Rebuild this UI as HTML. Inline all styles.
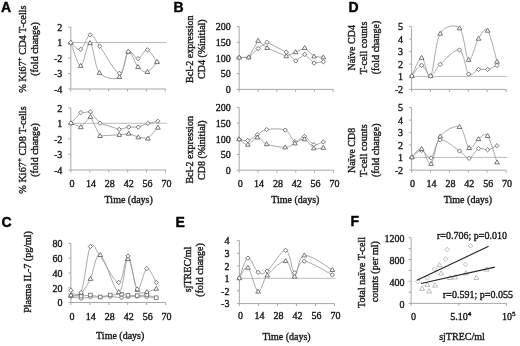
<!DOCTYPE html>
<html><head><meta charset="utf-8"><style>
html,body{margin:0;padding:0;background:#fff;}
svg{display:block;filter:grayscale(1);}
text{font-family:"Liberation Serif",serif;font-size:10px;fill:#1a1a1a;stroke:#1a1a1a;stroke-width:0.38px;}
text.L{font-family:"Liberation Sans",sans-serif;font-weight:bold;font-size:14px;fill:#000;stroke:#000;stroke-width:0.4px;}
</style></head><body>
<svg width="520" height="346" viewBox="0 0 520 346">
<rect width="520" height="346" fill="#fff"/>
<text x="1" y="11.5" class="L">A</text>
<text x="173.5" y="11.6" class="L">B</text>
<text x="348.5" y="11.8" class="L">D</text>
<text x="1.4" y="226.5" class="L">C</text>
<text x="175.5" y="226.5" class="L">E</text>
<text x="350.5" y="226.3" class="L">F</text>
<line x1="70.8" y1="42.5" x2="166.5" y2="42.5" stroke="#b0b0b0" stroke-width="0.85"/>
<line x1="70.8" y1="27" x2="70.8" y2="89" stroke="#a8a8a8" stroke-width="1"/>
<line x1="70.8" y1="89" x2="165.5" y2="89" stroke="#a8a8a8" stroke-width="1"/>
<line x1="68.3" y1="27" x2="70.8" y2="27" stroke="#a8a8a8" stroke-width="1"/>
<line x1="68.3" y1="42.5" x2="70.8" y2="42.5" stroke="#a8a8a8" stroke-width="1"/>
<line x1="68.3" y1="58" x2="70.8" y2="58" stroke="#a8a8a8" stroke-width="1"/>
<line x1="68.3" y1="73.5" x2="70.8" y2="73.5" stroke="#a8a8a8" stroke-width="1"/>
<line x1="68.3" y1="89" x2="70.8" y2="89" stroke="#a8a8a8" stroke-width="1"/>
<line x1="70.8" y1="89" x2="70.8" y2="91.5" stroke="#a8a8a8" stroke-width="1"/>
<line x1="89.7" y1="89" x2="89.7" y2="91.5" stroke="#a8a8a8" stroke-width="1"/>
<line x1="108.6" y1="89" x2="108.6" y2="91.5" stroke="#a8a8a8" stroke-width="1"/>
<line x1="127.5" y1="89" x2="127.5" y2="91.5" stroke="#a8a8a8" stroke-width="1"/>
<line x1="146.4" y1="89" x2="146.4" y2="91.5" stroke="#a8a8a8" stroke-width="1"/>
<line x1="165.3" y1="89" x2="165.3" y2="91.5" stroke="#a8a8a8" stroke-width="1"/>
<text x="62.3" y="30.8" text-anchor="end">2</text>
<text x="62.3" y="46.3" text-anchor="end">1</text>
<text x="62.3" y="61.8" text-anchor="end">-2</text>
<text x="62.3" y="77.3" text-anchor="end">-3</text>
<text x="62.3" y="92.8" text-anchor="end">-4</text>
<text transform="translate(25.7,49.1) rotate(-90)" text-anchor="middle"><tspan font-size="10.25">% Ki67<tspan dy="-3.5" font-size="7">+</tspan><tspan dy="3.5"> CD4 T-cells</tspan></tspan></text>
<text transform="translate(38.2,49) rotate(-90)" text-anchor="middle">(fold change)</text>
<line x1="70.8" y1="123.3" x2="167" y2="123.3" stroke="#b0b0b0" stroke-width="0.85"/>
<line x1="70.8" y1="107.8" x2="70.8" y2="170" stroke="#a8a8a8" stroke-width="1"/>
<line x1="70.8" y1="170" x2="166" y2="170" stroke="#a8a8a8" stroke-width="1"/>
<line x1="68.3" y1="107.8" x2="70.8" y2="107.8" stroke="#a8a8a8" stroke-width="1"/>
<line x1="68.3" y1="123.3" x2="70.8" y2="123.3" stroke="#a8a8a8" stroke-width="1"/>
<line x1="68.3" y1="138.8" x2="70.8" y2="138.8" stroke="#a8a8a8" stroke-width="1"/>
<line x1="68.3" y1="154.3" x2="70.8" y2="154.3" stroke="#a8a8a8" stroke-width="1"/>
<line x1="68.3" y1="170" x2="70.8" y2="170" stroke="#a8a8a8" stroke-width="1"/>
<line x1="71" y1="170" x2="71" y2="172.5" stroke="#a8a8a8" stroke-width="1"/>
<line x1="89.9" y1="170" x2="89.9" y2="172.5" stroke="#a8a8a8" stroke-width="1"/>
<line x1="108.8" y1="170" x2="108.8" y2="172.5" stroke="#a8a8a8" stroke-width="1"/>
<line x1="127.7" y1="170" x2="127.7" y2="172.5" stroke="#a8a8a8" stroke-width="1"/>
<line x1="146.6" y1="170" x2="146.6" y2="172.5" stroke="#a8a8a8" stroke-width="1"/>
<line x1="165.5" y1="170" x2="165.5" y2="172.5" stroke="#a8a8a8" stroke-width="1"/>
<text x="62.3" y="111.6" text-anchor="end">2</text>
<text x="62.3" y="127.1" text-anchor="end">1</text>
<text x="62.3" y="142.6" text-anchor="end">-2</text>
<text x="62.3" y="158.1" text-anchor="end">-3</text>
<text x="62.3" y="173.8" text-anchor="end">-4</text>
<text x="72" y="187" text-anchor="middle">0</text>
<text x="90.9" y="187" text-anchor="middle">14</text>
<text x="109.8" y="187" text-anchor="middle">28</text>
<text x="128.7" y="187" text-anchor="middle">42</text>
<text x="147.6" y="187" text-anchor="middle">56</text>
<text x="166.5" y="187" text-anchor="middle">70</text>
<text transform="translate(25.7,150) rotate(-90)" text-anchor="middle"><tspan font-size="10.25">% Ki67<tspan dy="-3.5" font-size="7">+</tspan><tspan dy="3.5"> CD8 T-cells</tspan></tspan></text>
<text transform="translate(38.2,150) rotate(-90)" text-anchor="middle">(fold change)</text>
<text x="104.6" y="202.5" text-anchor="start" >Time (days)</text>
<line x1="239.2" y1="26.6" x2="239.2" y2="89.4" stroke="#a8a8a8" stroke-width="1"/>
<line x1="239.2" y1="89.4" x2="333.2" y2="89.4" stroke="#a8a8a8" stroke-width="1"/>
<line x1="236.7" y1="26.6" x2="239.2" y2="26.6" stroke="#a8a8a8" stroke-width="1"/>
<line x1="236.7" y1="42.3" x2="239.2" y2="42.3" stroke="#a8a8a8" stroke-width="1"/>
<line x1="236.7" y1="57.9" x2="239.2" y2="57.9" stroke="#a8a8a8" stroke-width="1"/>
<line x1="236.7" y1="73.6" x2="239.2" y2="73.6" stroke="#a8a8a8" stroke-width="1"/>
<line x1="236.7" y1="89.4" x2="239.2" y2="89.4" stroke="#a8a8a8" stroke-width="1"/>
<line x1="239.2" y1="89.4" x2="239.2" y2="91.9" stroke="#a8a8a8" stroke-width="1"/>
<line x1="258" y1="89.4" x2="258" y2="91.9" stroke="#a8a8a8" stroke-width="1"/>
<line x1="276.8" y1="89.4" x2="276.8" y2="91.9" stroke="#a8a8a8" stroke-width="1"/>
<line x1="295.6" y1="89.4" x2="295.6" y2="91.9" stroke="#a8a8a8" stroke-width="1"/>
<line x1="314.4" y1="89.4" x2="314.4" y2="91.9" stroke="#a8a8a8" stroke-width="1"/>
<line x1="333.2" y1="89.4" x2="333.2" y2="91.9" stroke="#a8a8a8" stroke-width="1"/>
<text x="230.7" y="30.4" text-anchor="end">200</text>
<text x="230.7" y="46.1" text-anchor="end">150</text>
<text x="230.7" y="61.7" text-anchor="end">100</text>
<text x="230.7" y="77.4" text-anchor="end">50</text>
<text x="230.7" y="93.2" text-anchor="end">0</text>
<text transform="translate(192.8,49.2) rotate(-90)" text-anchor="middle">Bcl-2 expression</text>
<text transform="translate(204.5,49.15) rotate(-90)" text-anchor="middle">CD4 (%initial)</text>
<line x1="239.2" y1="107.4" x2="239.2" y2="170.2" stroke="#a8a8a8" stroke-width="1"/>
<line x1="239.2" y1="170.2" x2="333.5" y2="170.2" stroke="#a8a8a8" stroke-width="1"/>
<line x1="236.7" y1="107.4" x2="239.2" y2="107.4" stroke="#a8a8a8" stroke-width="1"/>
<line x1="236.7" y1="123.1" x2="239.2" y2="123.1" stroke="#a8a8a8" stroke-width="1"/>
<line x1="236.7" y1="138.8" x2="239.2" y2="138.8" stroke="#a8a8a8" stroke-width="1"/>
<line x1="236.7" y1="154.5" x2="239.2" y2="154.5" stroke="#a8a8a8" stroke-width="1"/>
<line x1="236.7" y1="170.2" x2="239.2" y2="170.2" stroke="#a8a8a8" stroke-width="1"/>
<line x1="239.2" y1="170.2" x2="239.2" y2="172.7" stroke="#a8a8a8" stroke-width="1"/>
<line x1="258.05" y1="170.2" x2="258.05" y2="172.7" stroke="#a8a8a8" stroke-width="1"/>
<line x1="276.9" y1="170.2" x2="276.9" y2="172.7" stroke="#a8a8a8" stroke-width="1"/>
<line x1="295.75" y1="170.2" x2="295.75" y2="172.7" stroke="#a8a8a8" stroke-width="1"/>
<line x1="314.6" y1="170.2" x2="314.6" y2="172.7" stroke="#a8a8a8" stroke-width="1"/>
<line x1="333.45" y1="170.2" x2="333.45" y2="172.7" stroke="#a8a8a8" stroke-width="1"/>
<text x="230.7" y="111.2" text-anchor="end">200</text>
<text x="230.7" y="126.9" text-anchor="end">150</text>
<text x="230.7" y="142.6" text-anchor="end">100</text>
<text x="230.7" y="158.3" text-anchor="end">50</text>
<text x="230.7" y="174" text-anchor="end">0</text>
<text x="240.2" y="187" text-anchor="middle">0</text>
<text x="259.05" y="187" text-anchor="middle">14</text>
<text x="277.9" y="187" text-anchor="middle">28</text>
<text x="296.75" y="187" text-anchor="middle">42</text>
<text x="315.6" y="187" text-anchor="middle">56</text>
<text x="334.45" y="187" text-anchor="middle">70</text>
<text transform="translate(192.8,149.85) rotate(-90)" text-anchor="middle">Bcl-2 expression</text>
<text transform="translate(204.5,150.15) rotate(-90)" text-anchor="middle">CD8 (%initial)</text>
<text x="271.2" y="202.6" text-anchor="start" >Time (days)</text>
<line x1="411.6" y1="76.4" x2="507.3" y2="76.4" stroke="#b0b0b0" stroke-width="0.85"/>
<line x1="411.6" y1="26.6" x2="411.6" y2="89.4" stroke="#a8a8a8" stroke-width="1"/>
<line x1="411.6" y1="89.4" x2="506.3" y2="89.4" stroke="#a8a8a8" stroke-width="1"/>
<line x1="409.1" y1="26.6" x2="411.6" y2="26.6" stroke="#a8a8a8" stroke-width="1"/>
<line x1="409.1" y1="39.1" x2="411.6" y2="39.1" stroke="#a8a8a8" stroke-width="1"/>
<line x1="409.1" y1="51.6" x2="411.6" y2="51.6" stroke="#a8a8a8" stroke-width="1"/>
<line x1="409.1" y1="64.1" x2="411.6" y2="64.1" stroke="#a8a8a8" stroke-width="1"/>
<line x1="409.1" y1="76.4" x2="411.6" y2="76.4" stroke="#a8a8a8" stroke-width="1"/>
<line x1="409.1" y1="89.4" x2="411.6" y2="89.4" stroke="#a8a8a8" stroke-width="1"/>
<line x1="411.6" y1="89.4" x2="411.6" y2="91.9" stroke="#a8a8a8" stroke-width="1"/>
<line x1="430.5" y1="89.4" x2="430.5" y2="91.9" stroke="#a8a8a8" stroke-width="1"/>
<line x1="449.4" y1="89.4" x2="449.4" y2="91.9" stroke="#a8a8a8" stroke-width="1"/>
<line x1="468.3" y1="89.4" x2="468.3" y2="91.9" stroke="#a8a8a8" stroke-width="1"/>
<line x1="487.2" y1="89.4" x2="487.2" y2="91.9" stroke="#a8a8a8" stroke-width="1"/>
<line x1="506.1" y1="89.4" x2="506.1" y2="91.9" stroke="#a8a8a8" stroke-width="1"/>
<text x="403.1" y="30.4" text-anchor="end">5</text>
<text x="403.1" y="42.9" text-anchor="end">4</text>
<text x="403.1" y="55.4" text-anchor="end">3</text>
<text x="403.1" y="67.9" text-anchor="end">2</text>
<text x="403.1" y="80.2" text-anchor="end">1</text>
<text x="403.1" y="93.2" text-anchor="end">-2</text>
<text transform="translate(355.4,47.75) rotate(-90)" text-anchor="middle">Naïve CD4</text>
<text transform="translate(367.4,47.9) rotate(-90)" text-anchor="middle"><tspan font-size="10.2">T-cell counts</tspan></text>
<text transform="translate(378.8,47.5) rotate(-90)" text-anchor="middle">(fold change)</text>
<line x1="411.6" y1="157.4" x2="507.3" y2="157.4" stroke="#b0b0b0" stroke-width="0.85"/>
<line x1="411.6" y1="107.6" x2="411.6" y2="170.2" stroke="#a8a8a8" stroke-width="1"/>
<line x1="411.6" y1="170.2" x2="506.3" y2="170.2" stroke="#a8a8a8" stroke-width="1"/>
<line x1="409.1" y1="107.6" x2="411.6" y2="107.6" stroke="#a8a8a8" stroke-width="1"/>
<line x1="409.1" y1="120.1" x2="411.6" y2="120.1" stroke="#a8a8a8" stroke-width="1"/>
<line x1="409.1" y1="132.6" x2="411.6" y2="132.6" stroke="#a8a8a8" stroke-width="1"/>
<line x1="409.1" y1="145" x2="411.6" y2="145" stroke="#a8a8a8" stroke-width="1"/>
<line x1="409.1" y1="157.4" x2="411.6" y2="157.4" stroke="#a8a8a8" stroke-width="1"/>
<line x1="409.1" y1="170" x2="411.6" y2="170" stroke="#a8a8a8" stroke-width="1"/>
<line x1="411.6" y1="170.2" x2="411.6" y2="172.7" stroke="#a8a8a8" stroke-width="1"/>
<line x1="430.5" y1="170.2" x2="430.5" y2="172.7" stroke="#a8a8a8" stroke-width="1"/>
<line x1="449.4" y1="170.2" x2="449.4" y2="172.7" stroke="#a8a8a8" stroke-width="1"/>
<line x1="468.3" y1="170.2" x2="468.3" y2="172.7" stroke="#a8a8a8" stroke-width="1"/>
<line x1="487.2" y1="170.2" x2="487.2" y2="172.7" stroke="#a8a8a8" stroke-width="1"/>
<line x1="506.1" y1="170.2" x2="506.1" y2="172.7" stroke="#a8a8a8" stroke-width="1"/>
<text x="403.1" y="111.4" text-anchor="end">5</text>
<text x="403.1" y="123.9" text-anchor="end">4</text>
<text x="403.1" y="136.4" text-anchor="end">3</text>
<text x="403.1" y="148.8" text-anchor="end">2</text>
<text x="403.1" y="161.2" text-anchor="end">1</text>
<text x="403.1" y="173.8" text-anchor="end">-2</text>
<text x="412.6" y="187" text-anchor="middle">0</text>
<text x="431.5" y="187" text-anchor="middle">14</text>
<text x="450.4" y="187" text-anchor="middle">28</text>
<text x="469.3" y="187" text-anchor="middle">42</text>
<text x="488.2" y="187" text-anchor="middle">56</text>
<text x="507.1" y="187" text-anchor="middle">70</text>
<text transform="translate(355.4,150.4) rotate(-90)" text-anchor="middle">Naïve CD8</text>
<text transform="translate(367.4,150.6) rotate(-90)" text-anchor="middle"><tspan font-size="10.2">T-cell counts</tspan></text>
<text transform="translate(378.8,150.3) rotate(-90)" text-anchor="middle">(fold change)</text>
<text x="443.8" y="202.6" text-anchor="start" >Time (days)</text>
<line x1="70.9" y1="243.4" x2="70.9" y2="302.5" stroke="#a8a8a8" stroke-width="1"/>
<line x1="70.9" y1="302.5" x2="165.6" y2="302.5" stroke="#a8a8a8" stroke-width="1"/>
<line x1="68.4" y1="243.4" x2="70.9" y2="243.4" stroke="#a8a8a8" stroke-width="1"/>
<line x1="68.4" y1="258.2" x2="70.9" y2="258.2" stroke="#a8a8a8" stroke-width="1"/>
<line x1="68.4" y1="273" x2="70.9" y2="273" stroke="#a8a8a8" stroke-width="1"/>
<line x1="68.4" y1="287.8" x2="70.9" y2="287.8" stroke="#a8a8a8" stroke-width="1"/>
<line x1="68.4" y1="302.5" x2="70.9" y2="302.5" stroke="#a8a8a8" stroke-width="1"/>
<line x1="70.9" y1="302.5" x2="70.9" y2="305" stroke="#a8a8a8" stroke-width="1"/>
<line x1="89.84" y1="302.5" x2="89.84" y2="305" stroke="#a8a8a8" stroke-width="1"/>
<line x1="108.78" y1="302.5" x2="108.78" y2="305" stroke="#a8a8a8" stroke-width="1"/>
<line x1="127.72" y1="302.5" x2="127.72" y2="305" stroke="#a8a8a8" stroke-width="1"/>
<line x1="146.66" y1="302.5" x2="146.66" y2="305" stroke="#a8a8a8" stroke-width="1"/>
<line x1="165.6" y1="302.5" x2="165.6" y2="305" stroke="#a8a8a8" stroke-width="1"/>
<text x="62.4" y="247.2" text-anchor="end">80</text>
<text x="62.4" y="262" text-anchor="end">60</text>
<text x="62.4" y="276.8" text-anchor="end">40</text>
<text x="62.4" y="291.6" text-anchor="end">20</text>
<text x="62.4" y="306.3" text-anchor="end">0</text>
<text x="71.9" y="319.6" text-anchor="middle">0</text>
<text x="90.84" y="319.6" text-anchor="middle">14</text>
<text x="109.78" y="319.6" text-anchor="middle">28</text>
<text x="128.72" y="319.6" text-anchor="middle">42</text>
<text x="147.66" y="319.6" text-anchor="middle">56</text>
<text x="166.6" y="319.6" text-anchor="middle">70</text>
<text transform="translate(30.6,272) rotate(-90)" text-anchor="middle">Plasma IL-7 (pg/ml)</text>
<text x="96.1" y="338.8" text-anchor="start" >Time (days)</text>
<line x1="239.4" y1="278.3" x2="335.5" y2="278.3" stroke="#b0b0b0" stroke-width="0.85"/>
<line x1="239.4" y1="240.6" x2="239.4" y2="303.6" stroke="#a8a8a8" stroke-width="1"/>
<line x1="239.4" y1="303.6" x2="334.5" y2="303.6" stroke="#a8a8a8" stroke-width="1"/>
<line x1="236.9" y1="240.6" x2="239.4" y2="240.6" stroke="#a8a8a8" stroke-width="1"/>
<line x1="236.9" y1="253.3" x2="239.4" y2="253.3" stroke="#a8a8a8" stroke-width="1"/>
<line x1="236.9" y1="265.9" x2="239.4" y2="265.9" stroke="#a8a8a8" stroke-width="1"/>
<line x1="236.9" y1="278.3" x2="239.4" y2="278.3" stroke="#a8a8a8" stroke-width="1"/>
<line x1="236.9" y1="290.8" x2="239.4" y2="290.8" stroke="#a8a8a8" stroke-width="1"/>
<line x1="236.9" y1="303.6" x2="239.4" y2="303.6" stroke="#a8a8a8" stroke-width="1"/>
<line x1="239.4" y1="303.6" x2="239.4" y2="306.1" stroke="#a8a8a8" stroke-width="1"/>
<line x1="258.42" y1="303.6" x2="258.42" y2="306.1" stroke="#a8a8a8" stroke-width="1"/>
<line x1="277.44" y1="303.6" x2="277.44" y2="306.1" stroke="#a8a8a8" stroke-width="1"/>
<line x1="296.46" y1="303.6" x2="296.46" y2="306.1" stroke="#a8a8a8" stroke-width="1"/>
<line x1="315.48" y1="303.6" x2="315.48" y2="306.1" stroke="#a8a8a8" stroke-width="1"/>
<line x1="334.5" y1="303.6" x2="334.5" y2="306.1" stroke="#a8a8a8" stroke-width="1"/>
<text x="229.4" y="244.4" text-anchor="end">4</text>
<text x="229.4" y="257.1" text-anchor="end">3</text>
<text x="229.4" y="269.7" text-anchor="end">2</text>
<text x="229.4" y="282.1" text-anchor="end">1</text>
<text x="229.4" y="294.6" text-anchor="end">-2</text>
<text x="229.4" y="307.4" text-anchor="end">-3</text>
<text x="240.4" y="319.3" text-anchor="middle">0</text>
<text x="259.42" y="319.3" text-anchor="middle">14</text>
<text x="278.44" y="319.3" text-anchor="middle">28</text>
<text x="297.46" y="319.3" text-anchor="middle">42</text>
<text x="316.48" y="319.3" text-anchor="middle">56</text>
<text x="335.5" y="319.3" text-anchor="middle">70</text>
<text transform="translate(191.2,269.4) rotate(-90)" text-anchor="middle">sjTREC/ml</text>
<text transform="translate(203.2,269.9) rotate(-90)" text-anchor="middle">(fold change)</text>
<text x="262.4" y="339.5" text-anchor="start" >Time (days)</text>
<line x1="411.1" y1="237.7" x2="411.1" y2="303.4" stroke="#a8a8a8" stroke-width="1"/>
<line x1="411.1" y1="303.4" x2="506.6" y2="303.4" stroke="#a8a8a8" stroke-width="1"/>
<line x1="408.6" y1="237.7" x2="411.1" y2="237.7" stroke="#a8a8a8" stroke-width="1"/>
<line x1="408.6" y1="248.6" x2="411.1" y2="248.6" stroke="#a8a8a8" stroke-width="1"/>
<line x1="408.6" y1="259.5" x2="411.1" y2="259.5" stroke="#a8a8a8" stroke-width="1"/>
<line x1="408.6" y1="270.4" x2="411.1" y2="270.4" stroke="#a8a8a8" stroke-width="1"/>
<line x1="408.6" y1="281.3" x2="411.1" y2="281.3" stroke="#a8a8a8" stroke-width="1"/>
<line x1="408.6" y1="292.2" x2="411.1" y2="292.2" stroke="#a8a8a8" stroke-width="1"/>
<line x1="408.6" y1="303.4" x2="411.1" y2="303.4" stroke="#a8a8a8" stroke-width="1"/>
<line x1="411.1" y1="303.4" x2="411.1" y2="305.9" stroke="#a8a8a8" stroke-width="1"/>
<line x1="458.8" y1="303.4" x2="458.8" y2="305.9" stroke="#a8a8a8" stroke-width="1"/>
<line x1="506.6" y1="303.4" x2="506.6" y2="305.9" stroke="#a8a8a8" stroke-width="1"/>
<text x="404.4" y="242" text-anchor="end" font-size="9.2">1200</text>
<text x="404.4" y="263.8" text-anchor="end" font-size="9.2">800</text>
<text x="404.4" y="285.6" text-anchor="end" font-size="9.2">400</text>
<text x="404.4" y="307.7" text-anchor="end" font-size="9.2">0</text>
<path d="M417.8,279.3 L420.1,281.6 L417.8,283.9 L415.5,281.6 Z" fill="#fff" stroke="#b4b4b4" stroke-width="0.9"/>
<path d="M427.3,275.5 L429.6,277.8 L427.3,280.1 L425,277.8 Z" fill="#fff" stroke="#b4b4b4" stroke-width="0.9"/>
<path d="M434.3,266.8 L436.6,269.1 L434.3,271.4 L432,269.1 Z" fill="#fff" stroke="#b4b4b4" stroke-width="0.9"/>
<path d="M445.5,256.8 L447.8,259.1 L445.5,261.4 L443.2,259.1 Z" fill="#fff" stroke="#b4b4b4" stroke-width="0.9"/>
<path d="M447.3,247.2 L449.6,249.5 L447.3,251.8 L445,249.5 Z" fill="#fff" stroke="#b4b4b4" stroke-width="0.9"/>
<path d="M465.5,262 L467.8,264.3 L465.5,266.6 L463.2,264.3 Z" fill="#fff" stroke="#b4b4b4" stroke-width="0.9"/>
<path d="M470.5,243.5 L472.8,245.8 L470.5,248.1 L468.2,245.8 Z" fill="#fff" stroke="#b4b4b4" stroke-width="0.9"/>
<path d="M422.1,286.05 L424.63,290.3 L419.57,290.3 Z" fill="#fff" stroke="#b4b4b4" stroke-width="0.9"/>
<path d="M427.3,282.15 L429.83,286.4 L424.77,286.4 Z" fill="#fff" stroke="#b4b4b4" stroke-width="0.9"/>
<path d="M429.1,288.65 L431.63,292.9 L426.57,292.9 Z" fill="#fff" stroke="#b4b4b4" stroke-width="0.9"/>
<path d="M435.1,282.85 L437.63,287.1 L432.57,287.1 Z" fill="#fff" stroke="#b4b4b4" stroke-width="0.9"/>
<path d="M439.5,262.55 L442.03,266.8 L436.97,266.8 Z" fill="#fff" stroke="#b4b4b4" stroke-width="0.9"/>
<path d="M441.2,270.75 L443.73,275 L438.67,275 Z" fill="#fff" stroke="#b4b4b4" stroke-width="0.9"/>
<path d="M449.9,275.25 L452.43,279.5 L447.37,279.5 Z" fill="#fff" stroke="#b4b4b4" stroke-width="0.9"/>
<path d="M455.1,274.75 L457.63,279 L452.57,279 Z" fill="#fff" stroke="#b4b4b4" stroke-width="0.9"/>
<path d="M465.9,270.55 L468.43,274.8 L463.37,274.8 Z" fill="#fff" stroke="#b4b4b4" stroke-width="0.9"/>
<path d="M476.3,275.15 L478.83,279.4 L473.77,279.4 Z" fill="#fff" stroke="#b4b4b4" stroke-width="0.9"/>
<path d="M486.7,266.85 L489.23,271.1 L484.17,271.1 Z" fill="#fff" stroke="#b4b4b4" stroke-width="0.9"/>
<line x1="417" y1="280.2" x2="488.6" y2="246.3" stroke="#222" stroke-width="1.1"/>
<line x1="421" y1="283.5" x2="494.8" y2="267.1" stroke="#222" stroke-width="1.1"/>
<text x="437" y="239" text-anchor="start" >r=0.706; p=0.010</text>
<text x="443" y="297.6" text-anchor="start" >r=0.591; p=0.055</text>
<text x="413.6" y="319.5" text-anchor="middle" >0</text>
<text x="450.3" y="319.5" text-anchor="start" >5.10<tspan dy="-3.5" font-size="7">4</tspan></text>
<text x="501.9" y="319.5" text-anchor="start" >10<tspan dy="-3.5" font-size="7">5</tspan></text>
<text transform="translate(365,272.5) rotate(-90)" text-anchor="middle"><tspan font-size="10.2">Total naïve T-cell</tspan></text>
<text transform="translate(377.7,271.7) rotate(-90)" text-anchor="middle">counts (per ml)</text>
<text x="439.2" y="339.6" text-anchor="start" >sjTREC/ml</text>
<path d="M70.8,42.6 C72.45,46.47 77.48,65.73 80.7,65.8 C83.92,65.87 86.97,41.83 90.1,43 C93.23,44.17 94.62,67.15 99.5,72.8 C104.38,78.45 114.6,80.42 119.4,76.9 C124.2,73.38 125.2,53.35 128.3,51.7 C131.4,50.05 134.82,63.63 138,67 C141.18,70.37 144.23,72.73 147.4,71.9 C150.57,71.07 155.4,63.65 157,62" fill="none" stroke="#9a9a9a" stroke-width="0.85"/>
<path d="M70.8,42.6 C72.45,43.73 77.48,50.7 80.7,49.4 C83.92,48.1 86.92,35.32 90.1,34.8 C93.28,34.28 94.92,39.88 99.8,46.3 C104.68,52.72 114.65,72.4 119.4,73.3 C124.15,74.2 125.2,54.15 128.3,51.7 C131.4,49.25 134.82,58.92 138,58.6 C141.18,58.28 144.23,49.23 147.4,49.8 C150.57,50.37 155.4,59.97 157,62" fill="none" stroke="#9a9a9a" stroke-width="0.85"/>
<path d="M71,123.2 L80.8,127.1 L90.4,116.8 L100,135.9 L119.3,134.8 L128.7,133.6 L138.3,137.2 L147.9,138.5 L157.9,127.6" fill="none" stroke="#9a9a9a" stroke-width="0.85"/>
<path d="M71,123.2 L80.8,112.6 L90.4,111.9 L100,123.2 L119.3,129.4 L128.7,127.1 L138.3,127.1 L147.9,123.4 L157.9,121.3" fill="none" stroke="#9a9a9a" stroke-width="0.85"/>
<path d="M239.2,57.5 L248.7,57.3 L258.1,48.6 L267.1,42.3 L286.3,52.2 L295.7,60.9 L304.7,54.4 L314.1,63.1 L323.3,61.8" fill="none" stroke="#9a9a9a" stroke-width="0.85"/>
<path d="M239.2,57.5 L248.7,57.3 L258.1,40.7 L267.1,47.9 L286.3,56.2 L295.7,52.1 L304.7,47.9 L314.1,56.4 L323.3,57.3" fill="none" stroke="#9a9a9a" stroke-width="0.85"/>
<path d="M239.1,139.2 C240.55,139.43 244.77,141.35 247.8,140.6 C250.83,139.85 254.15,136.53 257.3,134.7 C260.45,132.87 262.05,130.37 266.7,129.6 C271.35,128.83 280.52,128.12 285.2,130.1 C289.88,132.08 291.6,140.43 294.8,141.5 C298,142.57 301.23,135.98 304.4,136.5 C307.57,137.02 310.65,143.7 313.8,144.6 C316.95,145.5 321.72,142.35 323.3,141.9" fill="none" stroke="#9a9a9a" stroke-width="0.85"/>
<path d="M239.1,139.2 C240.55,140.1 244.77,144.9 247.8,144.6 C250.83,144.3 254.15,137.48 257.3,137.4 C260.45,137.32 262.05,142.45 266.7,144.1 C271.35,145.75 280.52,147.43 285.2,147.3 C289.88,147.17 291.6,144.65 294.8,143.3 C298,141.95 301.23,138.38 304.4,139.2 C307.57,140.02 310.65,146.78 313.8,148.2 C316.95,149.62 321.72,147.78 323.3,147.7" fill="none" stroke="#9a9a9a" stroke-width="0.85"/>
<path d="M411.8,76 C413.43,72.97 418.47,57.8 421.6,57.8 C424.73,57.8 427.5,80.03 430.6,76 C433.7,71.97 435.38,41.57 440.2,33.6 C445.02,25.63 454.77,23.83 459.5,28.2 C464.23,32.57 465.43,58.07 468.6,59.8 C471.77,61.53 475.33,43.47 478.5,38.6 C481.67,33.73 484.52,26.77 487.6,30.6 C490.68,34.43 495.43,56.43 497,61.6" fill="none" stroke="#9a9a9a" stroke-width="0.85"/>
<path d="M411.8,76 C413.43,74.22 418.47,65.3 421.6,65.3 C424.73,65.3 427.5,76.15 430.6,76 C433.7,75.85 435.38,68.73 440.2,64.4 C445.02,60.07 454.77,48.38 459.5,50 C464.23,51.62 465.43,70.87 468.6,74.1 C471.77,77.33 475.33,70.18 478.5,69.4 C481.67,68.62 484.52,70.07 487.6,69.4 C490.68,68.73 495.43,66.07 497,65.4" fill="none" stroke="#9a9a9a" stroke-width="0.85"/>
<path d="M411.8,157.2 C413.43,156.07 418.38,150.27 421.6,150.4 C424.82,150.53 428,159.75 431.1,158 C434.2,156.25 435.47,141.07 440.2,139.9 C444.93,138.73 454.68,147.93 459.5,151 C464.32,154.07 465.93,158.7 469.1,158.3 C472.27,157.9 475.42,150.02 478.5,148.6 C481.58,147.18 484.52,150.28 487.6,149.8 C490.68,149.32 495.43,146.38 497,145.7" fill="none" stroke="#9a9a9a" stroke-width="0.85"/>
<path d="M411.8,157.2 C413.43,155.82 418.38,147.8 421.6,148.9 C424.82,150 428,165.88 431.1,163.8 C434.2,161.72 435.47,142.55 440.2,136.4 C444.93,130.25 454.68,124.97 459.5,126.9 C464.32,128.83 465.93,145.98 469.1,148 C472.27,150.02 475.42,141.02 478.5,139 C481.58,136.98 484.52,132.02 487.6,135.9 C490.68,139.78 495.43,157.9 497,162.3" fill="none" stroke="#9a9a9a" stroke-width="0.85"/>
<path d="M70.9,296.5 L81.1,298.6 L90.4,297 L100.3,297.2 L110.3,296.5 L121.5,297.7 L128,296.8 L137.3,296.5 L146.8,296.8 L156.3,297.8" fill="none" stroke="#9a9a9a" stroke-width="0.85"/>
<path d="M70.9,295.6 L81.1,296.2 L90.4,295 L100.3,297 L110.3,295 L121.5,294.2 L128,295.2 L137.3,295.6 L146.8,295 L156.3,297.7" fill="none" stroke="#9a9a9a" stroke-width="0.85"/>
<path d="M70.9,295.2 C72.6,294.83 77.85,295.73 81.1,293 C84.35,290.27 87.2,285.15 90.4,278.8 C93.6,272.45 95.58,252.7 100.3,254.9 C105.02,257.1 114.08,291.33 118.7,292 C123.32,292.67 124.9,259.27 128,258.9 C131.1,258.53 134.17,284.28 137.3,289.8 C140.43,295.32 143.63,292.18 146.8,292 C149.97,291.82 154.72,289.25 156.3,288.7" fill="none" stroke="#9a9a9a" stroke-width="0.85"/>
<path d="M70.9,290.3 C72.6,290.67 77.85,299.8 81.1,292.5 C84.35,285.2 87.2,252.5 90.4,246.5 C93.6,240.5 95.58,250.5 100.3,256.5 C105.02,262.5 114.08,282.58 118.7,282.5 C123.32,282.42 124.9,254.88 128,256 C131.1,257.12 134.17,287.1 137.3,289.2 C140.43,291.3 143.63,269.72 146.8,268.6 C149.97,267.48 154.72,280.18 156.3,282.5" fill="none" stroke="#9a9a9a" stroke-width="0.85"/>
<path d="M239.3,278.1 C240.73,276.37 244.77,265.47 247.9,267.7 C251.03,269.93 254.88,290.22 258.1,291.5 C261.32,292.78 262.62,280.48 267.2,275.4 C271.78,270.32 281.05,260.82 285.6,261 C290.15,261.18 291.38,277.43 294.5,276.5 C297.62,275.57 298,256.5 304.3,255.4 C310.6,254.3 327.63,267.48 332.3,269.9" fill="none" stroke="#9a9a9a" stroke-width="0.85"/>
<path d="M239.3,278.1 C240.73,274.77 244.77,259.07 247.9,258.1 C251.03,257.13 254.88,270.15 258.1,272.3 C261.32,274.45 262.62,274.67 267.2,271 C271.78,267.33 281.05,250 285.6,250.3 C290.15,250.6 291.38,270.98 294.5,272.8 C297.62,274.62 298,260.85 304.3,261.2 C310.6,261.55 327.63,272.62 332.3,274.9" fill="none" stroke="#9a9a9a" stroke-width="0.85"/>
<path d="M70.8,40.21 L73.16,44.19 L68.44,44.19 Z" fill="#fff" stroke="#666666" stroke-width="0.9"/>
<path d="M80.7,63.41 L83.06,67.39 L78.34,67.39 Z" fill="#fff" stroke="#666666" stroke-width="0.9"/>
<path d="M90.1,40.61 L92.46,44.59 L87.73,44.59 Z" fill="#fff" stroke="#666666" stroke-width="0.9"/>
<path d="M99.5,70.41 L101.86,74.39 L97.14,74.39 Z" fill="#fff" stroke="#666666" stroke-width="0.9"/>
<path d="M119.4,74.51 L121.77,78.49 L117.04,78.49 Z" fill="#fff" stroke="#666666" stroke-width="0.9"/>
<path d="M128.3,49.31 L130.67,53.29 L125.94,53.29 Z" fill="#fff" stroke="#666666" stroke-width="0.9"/>
<path d="M138,64.61 L140.37,68.59 L135.63,68.59 Z" fill="#fff" stroke="#666666" stroke-width="0.9"/>
<path d="M147.4,69.51 L149.77,73.49 L145.03,73.49 Z" fill="#fff" stroke="#666666" stroke-width="0.9"/>
<path d="M157,59.61 L159.37,63.59 L154.63,63.59 Z" fill="#fff" stroke="#666666" stroke-width="0.9"/>
<path d="M70.8,40.45 L72.95,42.6 L70.8,44.75 L68.65,42.6 Z" fill="#fff" stroke="#666666" stroke-width="0.9"/>
<path d="M80.7,47.25 L82.85,49.4 L80.7,51.55 L78.55,49.4 Z" fill="#fff" stroke="#666666" stroke-width="0.9"/>
<path d="M90.1,32.65 L92.25,34.8 L90.1,36.95 L87.95,34.8 Z" fill="#fff" stroke="#666666" stroke-width="0.9"/>
<path d="M99.8,44.15 L101.95,46.3 L99.8,48.45 L97.65,46.3 Z" fill="#fff" stroke="#666666" stroke-width="0.9"/>
<path d="M119.4,71.15 L121.55,73.3 L119.4,75.45 L117.25,73.3 Z" fill="#fff" stroke="#666666" stroke-width="0.9"/>
<path d="M128.3,49.55 L130.45,51.7 L128.3,53.85 L126.15,51.7 Z" fill="#fff" stroke="#666666" stroke-width="0.9"/>
<path d="M138,56.45 L140.15,58.6 L138,60.75 L135.85,58.6 Z" fill="#fff" stroke="#666666" stroke-width="0.9"/>
<path d="M147.4,47.65 L149.55,49.8 L147.4,51.95 L145.25,49.8 Z" fill="#fff" stroke="#666666" stroke-width="0.9"/>
<path d="M157,59.85 L159.15,62 L157,64.15 L154.85,62 Z" fill="#fff" stroke="#666666" stroke-width="0.9"/>
<path d="M71,120.81 L73.36,124.79 L68.64,124.79 Z" fill="#fff" stroke="#666666" stroke-width="0.9"/>
<path d="M80.8,124.71 L83.16,128.69 L78.44,128.69 Z" fill="#fff" stroke="#666666" stroke-width="0.9"/>
<path d="M90.4,114.41 L92.77,118.39 L88.04,118.39 Z" fill="#fff" stroke="#666666" stroke-width="0.9"/>
<path d="M100,133.51 L102.36,137.49 L97.64,137.49 Z" fill="#fff" stroke="#666666" stroke-width="0.9"/>
<path d="M119.3,132.41 L121.66,136.39 L116.94,136.39 Z" fill="#fff" stroke="#666666" stroke-width="0.9"/>
<path d="M128.7,131.21 L131.06,135.19 L126.33,135.19 Z" fill="#fff" stroke="#666666" stroke-width="0.9"/>
<path d="M138.3,134.81 L140.67,138.79 L135.94,138.79 Z" fill="#fff" stroke="#666666" stroke-width="0.9"/>
<path d="M147.9,136.11 L150.27,140.09 L145.53,140.09 Z" fill="#fff" stroke="#666666" stroke-width="0.9"/>
<path d="M157.9,125.21 L160.27,129.19 L155.53,129.19 Z" fill="#fff" stroke="#666666" stroke-width="0.9"/>
<path d="M71,121.05 L73.15,123.2 L71,125.35 L68.85,123.2 Z" fill="#fff" stroke="#666666" stroke-width="0.9"/>
<path d="M80.8,110.45 L82.95,112.6 L80.8,114.75 L78.65,112.6 Z" fill="#fff" stroke="#666666" stroke-width="0.9"/>
<path d="M90.4,109.75 L92.55,111.9 L90.4,114.05 L88.25,111.9 Z" fill="#fff" stroke="#666666" stroke-width="0.9"/>
<path d="M100,121.05 L102.15,123.2 L100,125.35 L97.85,123.2 Z" fill="#fff" stroke="#666666" stroke-width="0.9"/>
<path d="M119.3,127.25 L121.45,129.4 L119.3,131.55 L117.15,129.4 Z" fill="#fff" stroke="#666666" stroke-width="0.9"/>
<path d="M128.7,124.95 L130.85,127.1 L128.7,129.25 L126.55,127.1 Z" fill="#fff" stroke="#666666" stroke-width="0.9"/>
<path d="M138.3,124.95 L140.45,127.1 L138.3,129.25 L136.15,127.1 Z" fill="#fff" stroke="#666666" stroke-width="0.9"/>
<path d="M147.9,121.25 L150.05,123.4 L147.9,125.55 L145.75,123.4 Z" fill="#fff" stroke="#666666" stroke-width="0.9"/>
<path d="M157.9,119.15 L160.05,121.3 L157.9,123.45 L155.75,121.3 Z" fill="#fff" stroke="#666666" stroke-width="0.9"/>
<path d="M239.2,55.35 L241.35,57.5 L239.2,59.65 L237.05,57.5 Z" fill="#fff" stroke="#666666" stroke-width="0.9"/>
<path d="M248.7,55.15 L250.85,57.3 L248.7,59.45 L246.55,57.3 Z" fill="#fff" stroke="#666666" stroke-width="0.9"/>
<path d="M258.1,46.45 L260.25,48.6 L258.1,50.75 L255.95,48.6 Z" fill="#fff" stroke="#666666" stroke-width="0.9"/>
<path d="M267.1,40.15 L269.25,42.3 L267.1,44.45 L264.95,42.3 Z" fill="#fff" stroke="#666666" stroke-width="0.9"/>
<path d="M286.3,50.05 L288.45,52.2 L286.3,54.35 L284.15,52.2 Z" fill="#fff" stroke="#666666" stroke-width="0.9"/>
<path d="M295.7,58.75 L297.85,60.9 L295.7,63.05 L293.55,60.9 Z" fill="#fff" stroke="#666666" stroke-width="0.9"/>
<path d="M304.7,52.25 L306.85,54.4 L304.7,56.55 L302.55,54.4 Z" fill="#fff" stroke="#666666" stroke-width="0.9"/>
<path d="M314.1,60.95 L316.25,63.1 L314.1,65.25 L311.95,63.1 Z" fill="#fff" stroke="#666666" stroke-width="0.9"/>
<path d="M323.3,59.65 L325.45,61.8 L323.3,63.95 L321.15,61.8 Z" fill="#fff" stroke="#666666" stroke-width="0.9"/>
<path d="M239.2,55.11 L241.56,59.09 L236.83,59.09 Z" fill="#fff" stroke="#666666" stroke-width="0.9"/>
<path d="M248.7,54.91 L251.06,58.89 L246.33,58.89 Z" fill="#fff" stroke="#666666" stroke-width="0.9"/>
<path d="M258.1,38.31 L260.47,42.29 L255.74,42.29 Z" fill="#fff" stroke="#666666" stroke-width="0.9"/>
<path d="M267.1,45.51 L269.47,49.49 L264.74,49.49 Z" fill="#fff" stroke="#666666" stroke-width="0.9"/>
<path d="M286.3,53.81 L288.67,57.79 L283.94,57.79 Z" fill="#fff" stroke="#666666" stroke-width="0.9"/>
<path d="M295.7,49.71 L298.06,53.69 L293.33,53.69 Z" fill="#fff" stroke="#666666" stroke-width="0.9"/>
<path d="M304.7,45.51 L307.06,49.49 L302.33,49.49 Z" fill="#fff" stroke="#666666" stroke-width="0.9"/>
<path d="M314.1,54.01 L316.47,57.99 L311.74,57.99 Z" fill="#fff" stroke="#666666" stroke-width="0.9"/>
<path d="M323.3,54.91 L325.67,58.89 L320.94,58.89 Z" fill="#fff" stroke="#666666" stroke-width="0.9"/>
<path d="M239.1,137.05 L241.25,139.2 L239.1,141.35 L236.95,139.2 Z" fill="#fff" stroke="#666666" stroke-width="0.9"/>
<path d="M247.8,138.45 L249.95,140.6 L247.8,142.75 L245.65,140.6 Z" fill="#fff" stroke="#666666" stroke-width="0.9"/>
<path d="M257.3,132.55 L259.45,134.7 L257.3,136.85 L255.15,134.7 Z" fill="#fff" stroke="#666666" stroke-width="0.9"/>
<path d="M266.7,127.45 L268.85,129.6 L266.7,131.75 L264.55,129.6 Z" fill="#fff" stroke="#666666" stroke-width="0.9"/>
<path d="M285.2,127.95 L287.35,130.1 L285.2,132.25 L283.05,130.1 Z" fill="#fff" stroke="#666666" stroke-width="0.9"/>
<path d="M294.8,139.35 L296.95,141.5 L294.8,143.65 L292.65,141.5 Z" fill="#fff" stroke="#666666" stroke-width="0.9"/>
<path d="M304.4,134.35 L306.55,136.5 L304.4,138.65 L302.25,136.5 Z" fill="#fff" stroke="#666666" stroke-width="0.9"/>
<path d="M313.8,142.45 L315.95,144.6 L313.8,146.75 L311.65,144.6 Z" fill="#fff" stroke="#666666" stroke-width="0.9"/>
<path d="M323.3,139.75 L325.45,141.9 L323.3,144.05 L321.15,141.9 Z" fill="#fff" stroke="#666666" stroke-width="0.9"/>
<path d="M239.1,136.81 L241.47,140.79 L236.73,140.79 Z" fill="#fff" stroke="#666666" stroke-width="0.9"/>
<path d="M247.8,142.21 L250.17,146.19 L245.44,146.19 Z" fill="#fff" stroke="#666666" stroke-width="0.9"/>
<path d="M257.3,135.01 L259.67,138.99 L254.94,138.99 Z" fill="#fff" stroke="#666666" stroke-width="0.9"/>
<path d="M266.7,141.71 L269.06,145.69 L264.33,145.69 Z" fill="#fff" stroke="#666666" stroke-width="0.9"/>
<path d="M285.2,144.91 L287.56,148.89 L282.83,148.89 Z" fill="#fff" stroke="#666666" stroke-width="0.9"/>
<path d="M294.8,140.91 L297.17,144.89 L292.44,144.89 Z" fill="#fff" stroke="#666666" stroke-width="0.9"/>
<path d="M304.4,136.81 L306.76,140.79 L302.03,140.79 Z" fill="#fff" stroke="#666666" stroke-width="0.9"/>
<path d="M313.8,145.81 L316.17,149.79 L311.44,149.79 Z" fill="#fff" stroke="#666666" stroke-width="0.9"/>
<path d="M323.3,145.31 L325.67,149.29 L320.94,149.29 Z" fill="#fff" stroke="#666666" stroke-width="0.9"/>
<path d="M411.8,73.61 L414.17,77.59 L409.44,77.59 Z" fill="#fff" stroke="#666666" stroke-width="0.9"/>
<path d="M421.6,55.41 L423.97,59.39 L419.24,59.39 Z" fill="#fff" stroke="#666666" stroke-width="0.9"/>
<path d="M430.6,73.61 L432.97,77.59 L428.24,77.59 Z" fill="#fff" stroke="#666666" stroke-width="0.9"/>
<path d="M440.2,31.21 L442.56,35.19 L437.83,35.19 Z" fill="#fff" stroke="#666666" stroke-width="0.9"/>
<path d="M459.5,25.81 L461.87,29.79 L457.13,29.79 Z" fill="#fff" stroke="#666666" stroke-width="0.9"/>
<path d="M468.6,57.41 L470.97,61.39 L466.24,61.39 Z" fill="#fff" stroke="#666666" stroke-width="0.9"/>
<path d="M478.5,36.21 L480.87,40.19 L476.13,40.19 Z" fill="#fff" stroke="#666666" stroke-width="0.9"/>
<path d="M487.6,28.21 L489.97,32.19 L485.24,32.19 Z" fill="#fff" stroke="#666666" stroke-width="0.9"/>
<path d="M497,59.21 L499.37,63.19 L494.63,63.19 Z" fill="#fff" stroke="#666666" stroke-width="0.9"/>
<path d="M411.8,73.85 L413.95,76 L411.8,78.15 L409.65,76 Z" fill="#fff" stroke="#666666" stroke-width="0.9"/>
<path d="M421.6,63.15 L423.75,65.3 L421.6,67.45 L419.45,65.3 Z" fill="#fff" stroke="#666666" stroke-width="0.9"/>
<path d="M430.6,73.85 L432.75,76 L430.6,78.15 L428.45,76 Z" fill="#fff" stroke="#666666" stroke-width="0.9"/>
<path d="M440.2,62.25 L442.35,64.4 L440.2,66.55 L438.05,64.4 Z" fill="#fff" stroke="#666666" stroke-width="0.9"/>
<path d="M459.5,47.85 L461.65,50 L459.5,52.15 L457.35,50 Z" fill="#fff" stroke="#666666" stroke-width="0.9"/>
<path d="M468.6,71.95 L470.75,74.1 L468.6,76.25 L466.45,74.1 Z" fill="#fff" stroke="#666666" stroke-width="0.9"/>
<path d="M478.5,67.25 L480.65,69.4 L478.5,71.55 L476.35,69.4 Z" fill="#fff" stroke="#666666" stroke-width="0.9"/>
<path d="M487.6,67.25 L489.75,69.4 L487.6,71.55 L485.45,69.4 Z" fill="#fff" stroke="#666666" stroke-width="0.9"/>
<path d="M497,63.25 L499.15,65.4 L497,67.55 L494.85,65.4 Z" fill="#fff" stroke="#666666" stroke-width="0.9"/>
<path d="M411.8,155.05 L413.95,157.2 L411.8,159.35 L409.65,157.2 Z" fill="#fff" stroke="#666666" stroke-width="0.9"/>
<path d="M421.6,148.25 L423.75,150.4 L421.6,152.55 L419.45,150.4 Z" fill="#fff" stroke="#666666" stroke-width="0.9"/>
<path d="M431.1,155.85 L433.25,158 L431.1,160.15 L428.95,158 Z" fill="#fff" stroke="#666666" stroke-width="0.9"/>
<path d="M440.2,137.75 L442.35,139.9 L440.2,142.05 L438.05,139.9 Z" fill="#fff" stroke="#666666" stroke-width="0.9"/>
<path d="M459.5,148.85 L461.65,151 L459.5,153.15 L457.35,151 Z" fill="#fff" stroke="#666666" stroke-width="0.9"/>
<path d="M469.1,156.15 L471.25,158.3 L469.1,160.45 L466.95,158.3 Z" fill="#fff" stroke="#666666" stroke-width="0.9"/>
<path d="M478.5,146.45 L480.65,148.6 L478.5,150.75 L476.35,148.6 Z" fill="#fff" stroke="#666666" stroke-width="0.9"/>
<path d="M487.6,147.65 L489.75,149.8 L487.6,151.95 L485.45,149.8 Z" fill="#fff" stroke="#666666" stroke-width="0.9"/>
<path d="M497,143.55 L499.15,145.7 L497,147.85 L494.85,145.7 Z" fill="#fff" stroke="#666666" stroke-width="0.9"/>
<path d="M411.8,154.81 L414.17,158.79 L409.44,158.79 Z" fill="#fff" stroke="#666666" stroke-width="0.9"/>
<path d="M421.6,146.51 L423.97,150.49 L419.24,150.49 Z" fill="#fff" stroke="#666666" stroke-width="0.9"/>
<path d="M431.1,161.41 L433.47,165.39 L428.74,165.39 Z" fill="#fff" stroke="#666666" stroke-width="0.9"/>
<path d="M440.2,134.01 L442.56,137.99 L437.83,137.99 Z" fill="#fff" stroke="#666666" stroke-width="0.9"/>
<path d="M459.5,124.51 L461.87,128.49 L457.13,128.49 Z" fill="#fff" stroke="#666666" stroke-width="0.9"/>
<path d="M469.1,145.61 L471.47,149.59 L466.74,149.59 Z" fill="#fff" stroke="#666666" stroke-width="0.9"/>
<path d="M478.5,136.61 L480.87,140.59 L476.13,140.59 Z" fill="#fff" stroke="#666666" stroke-width="0.9"/>
<path d="M487.6,133.51 L489.97,137.49 L485.24,137.49 Z" fill="#fff" stroke="#666666" stroke-width="0.9"/>
<path d="M497,159.91 L499.37,163.89 L494.63,163.89 Z" fill="#fff" stroke="#666666" stroke-width="0.9"/>
<circle cx="70.9" cy="296.5" r="1.68" fill="#fff" stroke="#777" stroke-width="0.9"/>
<circle cx="81.1" cy="298.6" r="1.68" fill="#fff" stroke="#777" stroke-width="0.9"/>
<circle cx="90.4" cy="297" r="1.68" fill="#fff" stroke="#777" stroke-width="0.9"/>
<circle cx="100.3" cy="297.2" r="1.68" fill="#fff" stroke="#777" stroke-width="0.9"/>
<circle cx="110.3" cy="296.5" r="1.68" fill="#fff" stroke="#777" stroke-width="0.9"/>
<circle cx="121.5" cy="297.7" r="1.68" fill="#fff" stroke="#777" stroke-width="0.9"/>
<circle cx="128" cy="296.8" r="1.68" fill="#fff" stroke="#777" stroke-width="0.9"/>
<circle cx="137.3" cy="296.5" r="1.68" fill="#fff" stroke="#777" stroke-width="0.9"/>
<circle cx="146.8" cy="296.8" r="1.68" fill="#fff" stroke="#777" stroke-width="0.9"/>
<circle cx="156.3" cy="297.8" r="1.68" fill="#fff" stroke="#777" stroke-width="0.9"/>
<rect x="69.14" y="293.84" width="3.52" height="3.52" fill="#fff" stroke="#777" stroke-width="0.9"/>
<rect x="79.34" y="294.44" width="3.52" height="3.52" fill="#fff" stroke="#777" stroke-width="0.9"/>
<rect x="88.64" y="293.24" width="3.52" height="3.52" fill="#fff" stroke="#777" stroke-width="0.9"/>
<rect x="98.54" y="295.24" width="3.52" height="3.52" fill="#fff" stroke="#777" stroke-width="0.9"/>
<rect x="108.54" y="293.24" width="3.52" height="3.52" fill="#fff" stroke="#777" stroke-width="0.9"/>
<rect x="119.74" y="292.44" width="3.52" height="3.52" fill="#fff" stroke="#777" stroke-width="0.9"/>
<rect x="126.24" y="293.44" width="3.52" height="3.52" fill="#fff" stroke="#777" stroke-width="0.9"/>
<rect x="135.54" y="293.84" width="3.52" height="3.52" fill="#fff" stroke="#777" stroke-width="0.9"/>
<rect x="145.04" y="293.24" width="3.52" height="3.52" fill="#fff" stroke="#777" stroke-width="0.9"/>
<rect x="154.54" y="295.94" width="3.52" height="3.52" fill="#fff" stroke="#777" stroke-width="0.9"/>
<path d="M70.9,292.81 L73.27,296.79 L68.54,296.79 Z" fill="#fff" stroke="#666666" stroke-width="0.9"/>
<path d="M81.1,290.61 L83.46,294.59 L78.73,294.59 Z" fill="#fff" stroke="#666666" stroke-width="0.9"/>
<path d="M90.4,276.41 L92.77,280.39 L88.04,280.39 Z" fill="#fff" stroke="#666666" stroke-width="0.9"/>
<path d="M100.3,252.51 L102.66,256.49 L97.94,256.49 Z" fill="#fff" stroke="#666666" stroke-width="0.9"/>
<path d="M118.7,289.61 L121.06,293.59 L116.34,293.59 Z" fill="#fff" stroke="#666666" stroke-width="0.9"/>
<path d="M128,256.51 L130.37,260.49 L125.64,260.49 Z" fill="#fff" stroke="#666666" stroke-width="0.9"/>
<path d="M137.3,287.41 L139.67,291.39 L134.94,291.39 Z" fill="#fff" stroke="#666666" stroke-width="0.9"/>
<path d="M146.8,289.61 L149.17,293.59 L144.44,293.59 Z" fill="#fff" stroke="#666666" stroke-width="0.9"/>
<path d="M156.3,286.31 L158.67,290.29 L153.94,290.29 Z" fill="#fff" stroke="#666666" stroke-width="0.9"/>
<path d="M70.9,288.15 L73.05,290.3 L70.9,292.45 L68.75,290.3 Z" fill="#fff" stroke="#666666" stroke-width="0.9"/>
<path d="M81.1,290.35 L83.25,292.5 L81.1,294.65 L78.95,292.5 Z" fill="#fff" stroke="#666666" stroke-width="0.9"/>
<path d="M90.4,244.35 L92.55,246.5 L90.4,248.65 L88.25,246.5 Z" fill="#fff" stroke="#666666" stroke-width="0.9"/>
<path d="M118.7,280.35 L120.85,282.5 L118.7,284.65 L116.55,282.5 Z" fill="#fff" stroke="#666666" stroke-width="0.9"/>
<path d="M128,253.85 L130.15,256 L128,258.15 L125.85,256 Z" fill="#fff" stroke="#666666" stroke-width="0.9"/>
<path d="M137.3,287.05 L139.45,289.2 L137.3,291.35 L135.15,289.2 Z" fill="#fff" stroke="#666666" stroke-width="0.9"/>
<path d="M146.8,266.45 L148.95,268.6 L146.8,270.75 L144.65,268.6 Z" fill="#fff" stroke="#666666" stroke-width="0.9"/>
<path d="M156.3,280.35 L158.45,282.5 L156.3,284.65 L154.15,282.5 Z" fill="#fff" stroke="#666666" stroke-width="0.9"/>
<path d="M239.3,275.71 L241.67,279.69 L236.94,279.69 Z" fill="#fff" stroke="#666666" stroke-width="0.9"/>
<path d="M247.9,265.31 L250.27,269.29 L245.53,269.29 Z" fill="#fff" stroke="#666666" stroke-width="0.9"/>
<path d="M258.1,289.11 L260.47,293.09 L255.74,293.09 Z" fill="#fff" stroke="#666666" stroke-width="0.9"/>
<path d="M267.2,273.01 L269.56,276.99 L264.83,276.99 Z" fill="#fff" stroke="#666666" stroke-width="0.9"/>
<path d="M285.6,258.61 L287.97,262.59 L283.24,262.59 Z" fill="#fff" stroke="#666666" stroke-width="0.9"/>
<path d="M294.5,274.11 L296.87,278.09 L292.13,278.09 Z" fill="#fff" stroke="#666666" stroke-width="0.9"/>
<path d="M304.3,253.01 L306.67,256.99 L301.94,256.99 Z" fill="#fff" stroke="#666666" stroke-width="0.9"/>
<path d="M332.3,267.51 L334.67,271.49 L329.94,271.49 Z" fill="#fff" stroke="#666666" stroke-width="0.9"/>
<path d="M239.3,275.95 L241.45,278.1 L239.3,280.25 L237.15,278.1 Z" fill="#fff" stroke="#666666" stroke-width="0.9"/>
<path d="M247.9,255.95 L250.05,258.1 L247.9,260.25 L245.75,258.1 Z" fill="#fff" stroke="#666666" stroke-width="0.9"/>
<path d="M258.1,270.15 L260.25,272.3 L258.1,274.45 L255.95,272.3 Z" fill="#fff" stroke="#666666" stroke-width="0.9"/>
<path d="M267.2,268.85 L269.35,271 L267.2,273.15 L265.05,271 Z" fill="#fff" stroke="#666666" stroke-width="0.9"/>
<path d="M285.6,248.15 L287.75,250.3 L285.6,252.45 L283.45,250.3 Z" fill="#fff" stroke="#666666" stroke-width="0.9"/>
<path d="M294.5,270.65 L296.65,272.8 L294.5,274.95 L292.35,272.8 Z" fill="#fff" stroke="#666666" stroke-width="0.9"/>
<path d="M304.3,259.05 L306.45,261.2 L304.3,263.35 L302.15,261.2 Z" fill="#fff" stroke="#666666" stroke-width="0.9"/>
<path d="M332.3,272.75 L334.45,274.9 L332.3,277.05 L330.15,274.9 Z" fill="#fff" stroke="#666666" stroke-width="0.9"/>
</svg>
</body></html>
